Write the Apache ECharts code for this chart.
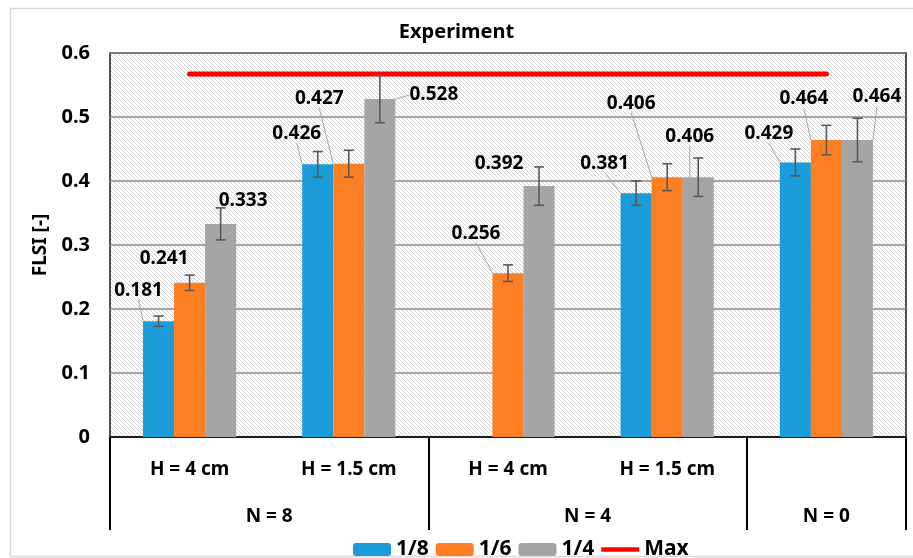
<!DOCTYPE html>
<html><head><meta charset="utf-8">
<script src="https://cdn.jsdelivr.net/npm/echarts@6/dist/echarts.min.js"></script>
<style>html,body{margin:0;padding:0;background:#fff}#c{width:913px;height:558px}</style>
</head><body><div id="c"></div>
<script>
// ---- data ----
const categories = ['H = 4 cm', 'H = 1.5 cm', 'H = 4 cm', 'H = 1.5 cm', ''];
const groupLabels = ['N = 8', 'N = 4', 'N = 0'];
const groupSpans = [2, 2, 1];
const seriesNames = ['1/8', '1/6', '1/4'];
const values18 = [0.181, 0.426, null, 0.381, 0.429];
const values16 = [0.241, 0.427, 0.256, 0.406, 0.464];
const values14 = [0.333, 0.528, 0.392, 0.406, 0.464];
const errors18 = [0.008, 0.020, null, 0.019, 0.021];
const errors16 = [0.012, 0.021, 0.013, 0.021, 0.023];
const errors14 = [0.025, 0.037, 0.030, 0.030, 0.034];
const maxValues = [0.567, 0.567, 0.567, 0.567, 0.567];
const yTicks = { min: 0, max: 0.6, interval: 0.1 };

// ---- layout / style (not data) ----
const colors = ['#1b9bd7', '#fd7f23', '#a5a5a5'];
const labelOffsets = [
  [[-20,-31],[-21,-31],null,[-31.5,-30],[-26.5,-29]],
  [[-25.5,-24],[-29.5,-65],[-32,-40],[-36,-74],[-22.5,-41]],
  [[22.5,-23],[54,-4],[-40,-23],[-8.5,-41],[19.5,-43]]
];
const leaderShow = [
  [true, true, false, true, true],
  [false, true, true, true, true],
  [false, true, false, true, true]
];
const GAP = 0.415;
const FONT = 'Noto Sans';

// hatch pattern
const pc = document.createElement('canvas');
pc.width = 4; pc.height = 4;
const g = pc.getContext('2d');
g.fillStyle = '#ffffff'; g.fillRect(0,0,4,4);
g.strokeStyle = '#d4d4d4'; g.lineWidth = 1;
g.beginPath(); g.moveTo(-1,-1); g.lineTo(5,5); g.moveTo(3,-1); g.lineTo(5,1); g.moveTo(-1,3); g.lineTo(1,5); g.stroke();

const allValues = [values18, values16, values14];
const allErrors = [errors18, errors16, errors14];

// group boundaries / centres from spans
const groupStarts = [];
const groupCenters = [];
let acc = 0;
groupSpans.forEach((s) => { groupStarts.push(acc); groupCenters.push(acc + s/2); acc += s; });
const groupTotal = acc;

const series = [];
allValues.forEach((vals, s) => {
  series.push({
    name: seriesNames[s], type: 'bar', xAxisIndex: 0,
    barGap: 0, barCategoryGap: (GAP*100) + '%',
    itemStyle: { color: colors[s] },
    data: vals.map((v, i) => ({ value: v, labelLine: { show: leaderShow[s][i] } })),
    label: {
      show: true, position: 'top', color: '#000', fontFamily: FONT, fontWeight: 'bold', fontSize: 19,
      formatter: (p) => p.value == null ? '' : p.value.toFixed(3)
    },
    labelLine: { show: true, lineStyle: { color: '#a6a6a6', width: 1 } },
    labelLayout: function (p) {
      const off = labelOffsets[s][p.dataIndex];
      if (!off) return {};
      return { x: p.rect.x + p.rect.width/2 + off[0], y: p.rect.y + off[1], align: 'center', verticalAlign: 'middle' };
    },
    z: 2
  });
});
allValues.forEach((vals, s) => {
  const d = [];
  vals.forEach((v, i) => { if (v != null && allErrors[s][i] != null) d.push([i, v, allErrors[s][i]]); });
  series.push({
    type: 'custom', xAxisIndex: 0, z: 5, silent: true,
    data: d,
    renderItem: function (params, api) {
      const idx = api.value(0), v = api.value(1), e = api.value(2);
      const band = api.size([1, 0])[0];
      const bw = band * (1 - GAP) / 3;
      const x = api.coord([idx, v])[0] + (s - 1) * bw;
      const yt = api.coord([idx, v + e])[1];
      const yb = api.coord([idx, v - e])[1];
      const st = { stroke: '#595959', lineWidth: 1.6 };
      return { type: 'group', children: [
        { type: 'line', shape: { x1: x, y1: yt, x2: x, y2: yb }, style: st },
        { type: 'line', shape: { x1: x-5, y1: yt, x2: x+5, y2: yt }, style: st },
        { type: 'line', shape: { x1: x-5, y1: yb, x2: x+5, y2: yb }, style: st }
      ]};
    }
  });
});
series.push({
  name: 'Max', type: 'line', xAxisIndex: 0, data: maxValues, symbol: 'none', showSymbol: false,
  lineStyle: { color: '#ff0000', width: 5, cap: 'round' }, itemStyle: { color: '#ff0000' }, z: 4
});

const chart = echarts.init(document.getElementById('c'), null, { renderer: 'canvas' });
chart.setOption({
  animation: false,
  textStyle: { fontFamily: FONT },
  title: { text: 'Experiment', left: 'center', top: 22, padding: 0,
    textStyle: { fontFamily: FONT, fontWeight: 'bold', fontSize: 20, color: '#000' } },
  graphic: [{ type: 'rect', shape: { x: 10.5, y: 8.5, width: 1000, height: 548 },
    style: { fill: 'none', stroke: '#d9d9d9', lineWidth: 1.5 }, z: -1 }],
  grid: { left: 110, right: 7, top: 53, bottom: 121, show: true,
    borderColor: '#1a1a1a', borderWidth: 1.5,
    backgroundColor: { image: pc, repeat: 'repeat' } },
  legend: {
    data: ['1/8', '1/6', '1/4', { name: 'Max', icon: 'path://M0,0 L40,0 L40,4.5 L0,4.5 Z' }],
    left: 353, top: 539, padding: 0,
    itemWidth: 38, itemHeight: 13, itemGap: 7,
    textStyle: { fontFamily: FONT, fontWeight: 'bold', fontSize: 21, color: '#000' }
  },
  xAxis: [
    { type: 'category', data: categories, position: 'bottom',
      axisLine: { show: true, lineStyle: { color: '#000', width: 1.5 } },
      axisTick: { show: false },
      axisLabel: { margin: 23, interval: 0, color: '#000', fontFamily: FONT, fontWeight: 'bold', fontSize: 19 },
      splitLine: { show: false } },
    // group separators: ticks at the boundaries of each group
    { type: 'category', data: categories.map((c, i) => String(i)), position: 'bottom',
      axisLine: { show: false },
      axisTick: { show: true, length: 93, interval: (index) => groupStarts.indexOf(index) >= 0,
        lineStyle: { color: '#000', width: 2 } },
      axisLabel: { show: false }, splitLine: { show: false } },
    // group labels
    { type: 'value', min: 0, max: groupTotal, position: 'bottom',
      axisLine: { show: false }, axisTick: { show: false },
      axisLabel: { show: true, customValues: groupCenters, margin: 70, color: '#000', fontFamily: FONT, fontWeight: 'bold', fontSize: 19,
        formatter: (v) => { const k = groupCenters.findIndex(c => Math.abs(c - v) < 1e-6); return k >= 0 ? groupLabels[k] : ''; } },
      splitLine: { show: false } }
  ],
  yAxis: {
    type: 'value', min: yTicks.min, max: yTicks.max, interval: yTicks.interval,
    name: 'FLSI [-]', nameLocation: 'middle', nameGap: 60, nameRotate: 90,
    nameTextStyle: { fontFamily: FONT, fontWeight: 'bold', fontSize: 19, color: '#000' },
    axisLine: { show: false }, axisTick: { show: false },
    axisLabel: { margin: 20, color: '#000', fontFamily: FONT, fontWeight: 'bold', fontSize: 20 },
    splitLine: { lineStyle: { color: '#8a8a8a', width: 1.5 } }
  },
  series: series
});
</script></body></html>
